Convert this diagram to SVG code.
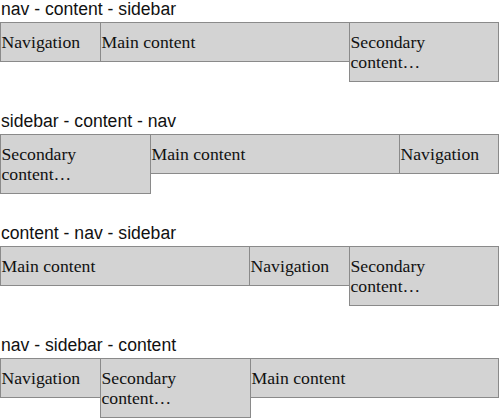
<svg xmlns="http://www.w3.org/2000/svg" width="500" height="419" viewBox="0 0 500 419">
<style>
.t{font-family:"Liberation Sans",Arial,sans-serif;font-size:17.6px;fill:#111}
.b{fill:#d3d3d3;stroke:#8a8a8a;stroke-width:1}
.l{font-family:"Liberation Serif","Times New Roman",serif;font-size:17.7px;fill:#111}
</style>
<rect width="500" height="419" fill="#fff"/>
<g id="s1">
<text class="t" x="1" y="15">nav - content - sidebar</text>
<g id="s1-nav"><rect class="b" x="0.5" y="22.5" width="100" height="39"/><text class="l" x="1.5" y="48">Navigation</text></g>
<g id="s1-main"><rect class="b" x="100.5" y="22.5" width="249" height="39"/><text class="l" x="101.5" y="48">Main content</text></g>
<g id="s1-side"><rect class="b" x="349.5" y="22.5" width="149" height="59"/><text class="l" x="350.5" y="48">Secondary</text><text class="l" x="350.5" y="68">content…</text></g>
</g>
<g id="s2">
<text class="t" x="1" y="127">sidebar - content - nav</text>
<g id="s2-side"><rect class="b" x="0.5" y="134.5" width="150" height="59"/><text class="l" x="1.5" y="160">Secondary</text><text class="l" x="1.5" y="180">content…</text></g>
<g id="s2-main"><rect class="b" x="150.5" y="134.5" width="249" height="39"/><text class="l" x="151.5" y="160">Main content</text></g>
<g id="s2-nav"><rect class="b" x="399.5" y="134.5" width="99" height="39"/><text class="l" x="400.5" y="160">Navigation</text></g>
</g>
<g id="s3">
<text class="t" x="1" y="239">content - nav - sidebar</text>
<g id="s3-main"><rect class="b" x="0.5" y="246.5" width="249" height="39"/><text class="l" x="1.5" y="272">Main content</text></g>
<g id="s3-nav"><rect class="b" x="249.5" y="246.5" width="100" height="39"/><text class="l" x="250.5" y="272">Navigation</text></g>
<g id="s3-side"><rect class="b" x="349.5" y="246.5" width="149" height="59"/><text class="l" x="350.5" y="272">Secondary</text><text class="l" x="350.5" y="292">content…</text></g>
</g>
<g id="s4">
<text class="t" x="1" y="351">nav - sidebar - content</text>
<g id="s4-nav"><rect class="b" x="0.5" y="358.5" width="100" height="39"/><text class="l" x="1.5" y="384">Navigation</text></g>
<g id="s4-side"><rect class="b" x="100.5" y="358.5" width="150" height="59"/><text class="l" x="101.5" y="384">Secondary</text><text class="l" x="101.5" y="404">content…</text></g>
<g id="s4-main"><rect class="b" x="250.5" y="358.5" width="248" height="39"/><text class="l" x="251.5" y="384">Main content</text></g>
</g>
<g id="connectors"/>
</svg>
